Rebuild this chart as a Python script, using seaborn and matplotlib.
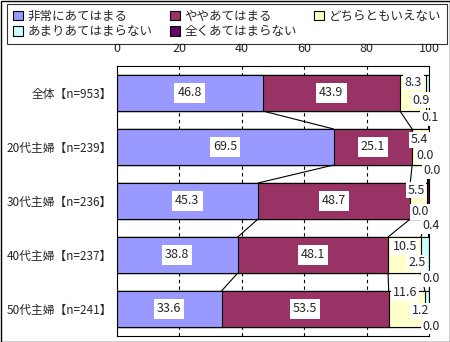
import numpy as np
import pandas as pd
import matplotlib
matplotlib.use("Agg")
import matplotlib.pyplot as plt
from matplotlib.patches import Patch, Rectangle
import seaborn as sns

# ---- data ----
categories = ["全体【n=953】", "20代主婦【n=239】", "30代主婦【n=236】",
              "40代主婦【n=237】", "50代主婦【n=241】"]
series_names = ["非常にあてはまる", "ややあてはまる", "どちらともいえない",
                "あまりあてはまらない", "全くあてはまらない"]
very_true = [46.8, 69.5, 45.3, 38.8, 33.6]
somewhat_true = [43.9, 25.1, 48.7, 48.1, 53.5]
neither = [8.3, 5.4, 5.5, 10.5, 11.6]
not_really = [0.9, 0.0, 0.0, 2.5, 1.2]
not_at_all = [0.1, 0.0, 0.4, 0.0, 0.0]
x_ticks = [0, 20, 40, 60, 80, 100]

colors = ["#9999FF", "#993366", "#FFFFCC", "#CCFFFF", "#660066"]

sns.set_style("white")
plt.rcParams["font.family"] = ["Noto Sans CJK JP", "DejaVu Sans"]

values = np.array([very_true, somewhat_true, neither, not_really, not_at_all]).T
cum = np.cumsum(values, axis=1)
df = pd.DataFrame({"cat": categories})
for k in range(5):
    df[f"c{k}"] = cum[:, k]

W, H = 450, 342
fig = plt.figure(figsize=(W / 100, H / 100), dpi=100)
x0, x1, y0, y1 = 116.5, 429.0, 66.0, 336.0
ax = fig.add_axes([x0 / W, 1 - y1 / H, (x1 - x0) / W, (y1 - y0) / H])

bar_w = 0.667
# stacked bars: draw cumulative totals from the outermost segment inward
for k in range(4, -1, -1):
    sns.barplot(data=df, x=f"c{k}", y="cat", orient="h", color=colors[k],
                saturation=1, width=bar_w, edgecolor="black", linewidth=0.8,
                ax=ax, zorder=2)

ax.set_xlim(0, 100)
ax.set_ylim(4.5, -0.5)

# dashed gridlines
for g in x_ticks[1:-1]:
    ax.axvline(g, color="black", lw=0.8, ls=(0, (3, 3)), zorder=0.5)

# series lines between neighbouring bars
half = bar_w / 2
for i in range(len(categories) - 1):
    for k in range(5):
        ax.plot([cum[i, k], cum[i + 1, k]], [i + half, i + 1 - half],
                color="black", lw=0.8, zorder=3, solid_capstyle="butt")

# value labels
fs = 9
box = dict(boxstyle="square,pad=0.25", facecolor="white", edgecolor="none")
small_box = dict(boxstyle="square,pad=0.12", facecolor="white", edgecolor="none")
for i in range(len(categories)):
    for k in range(2):
        xc = cum[i, k] - values[i, k] / 2
        ax.text(xc, i, f"{values[i, k]:.1f}", ha="center", va="center",
                fontsize=fs, bbox=box, zorder=5)

# placement of the three small-segment labels (pixel positions)
px_x = [[413.5, 421, 430.5], [419.5, 425, 432], [416, 420, 431.5],
        [405, 417, 431.5], [405, 420.5, 431.5]]
px_dy = [[-11, 7.5, 25], [-7, 9, 24], [-10.5, 11, 25],
         [-8, 8, 24], [-16.5, 2, 17]]
for i in range(len(categories)):
    for j, k in enumerate(range(2, 5)):
        xd = (px_x[i][j] - x0) / ((x1 - x0) / 100)
        yd = i + px_dy[i][j] / 54
        ax.text(xd, yd, f"{values[i, k]:.1f}", ha="center", va="center",
                fontsize=fs, bbox=small_box, zorder=6, clip_on=False)

# axes styling
ax.set_xlabel("")
ax.set_ylabel("")
ax.xaxis.tick_top()
ax.set_xticks(x_ticks)
ax.set_xticklabels([str(t) for t in x_ticks], fontsize=fs)
ax.tick_params(axis="x", length=0, pad=8)
ax.set_yticks(range(len(categories)))
ax.set_yticklabels(categories, fontsize=8.5)
ax.tick_params(axis="y", which="major", length=0, pad=3)
ax.set_yticks([i + 0.5 for i in range(len(categories) - 1)], minor=True)
ax.tick_params(axis="y", which="minor", direction="in", length=3,
               width=0.8, color="black")
for s in ax.spines.values():
    s.set_visible(True)
    s.set_color("black")
    s.set_linewidth(0.8)

# legend
handles = [Patch(facecolor=c, edgecolor="black", linewidth=0.8) for c in colors]
order = [0, 3, 1, 4, 2]
leg = fig.legend([handles[o] for o in order], [series_names[o] for o in order],
                 ncol=3, loc="upper left", mode="expand",
                 bbox_to_anchor=(7 / W, 1 - 39 / H, 440 / W, 35 / H),
                 borderaxespad=0, fontsize=fs, frameon=True, fancybox=False,
                 handlelength=0.8, handleheight=0.8, handletextpad=0.4,
                 labelspacing=0.2, borderpad=0.45, columnspacing=1.0)
leg.get_frame().set_edgecolor("black")
leg.get_frame().set_linewidth(0.8)

# outer border of the figure
fig.patches.append(Rectangle((0.5 / W, 0.5 / H), 1 - 1 / W, 1 - 1 / H,
                             transform=fig.transFigure, fill=False,
                             edgecolor="black", linewidth=1.0))

fig.savefig("out.png", dpi=100)
